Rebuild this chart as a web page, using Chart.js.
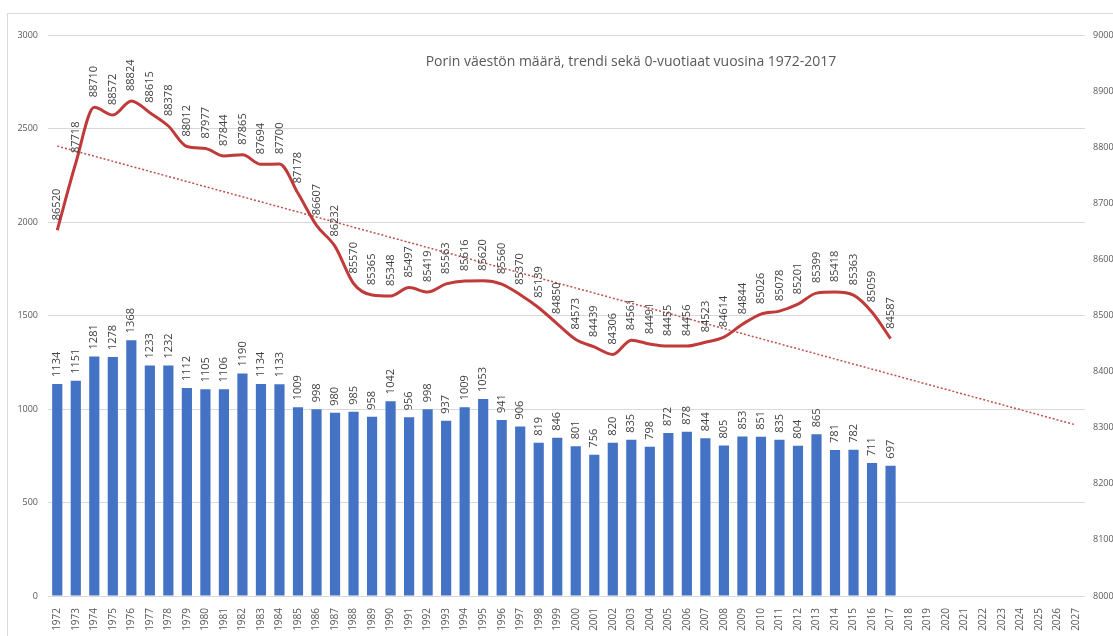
<!DOCTYPE html>
<html><head><meta charset="utf-8">
<script src="https://cdn.jsdelivr.net/npm/chart.js@4"></script>
<style>
html,body{margin:0;padding:0;overflow:hidden;background:#fff;width:1113px;height:636px}
#wrap{position:absolute;left:0;top:0;width:1135px;height:636px}
</style></head>
<body><div id="wrap"><canvas id="c" width="1135" height="636"></canvas></div>
<script>
const titleText = 'Porin väestön määrä, trendi sekä 0-vuotiaat vuosina 1972-2017';
const years = ['1972','1973','1974','1975','1976','1977','1978','1979','1980','1981','1982','1983','1984','1985','1986','1987','1988','1989','1990','1991','1992','1993','1994','1995','1996','1997','1998','1999','2000','2001','2002','2003','2004','2005','2006','2007','2008','2009','2010','2011','2012','2013','2014','2015','2016','2017','2018','2019','2020','2021','2022','2023','2024','2025','2026','2027'];
const births = [1134,1151,1281,1278,1368,1233,1232,1112,1105,1106,1190,1134,1133,1009,998,980,985,958,1042,956,998,937,1009,1053,941,906,819,846,801,756,820,835,798,872,878,844,805,853,851,835,804,865,781,782,711,697];
const population = [86520,87718,88710,88572,88824,88615,88378,88012,87977,87844,87865,87694,87700,87178,86607,86232,85570,85365,85348,85497,85419,85563,85616,85620,85560,85370,85139,84850,84573,84439,84306,84561,84491,84455,84456,84523,84614,84844,85026,85078,85201,85399,85418,85363,85059,84587];
const trendStart = 88020; // value at 1972
const trendEnd = 83050;   // value at 2027
const leftTicks = [0,500,1000,1500,2000,2500,3000];
const rightTicks = [80000,81000,82000,83000,84000,85000,86000,87000,88000,89000,90000];

const trend = years.map((y,i)=> i===0 ? trendStart : (i===years.length-1 ? trendEnd : null));

const FONT = '"Open Sans", "Noto Sans", sans-serif';

const framePlugin = {
  id:'frame',
  beforeDraw(chart){
    const ctx = chart.ctx;
    ctx.save();
    ctx.fillStyle='#fff';
    ctx.fillRect(0,0,chart.width,chart.height);
    ctx.strokeStyle='#d9d9d9';
    ctx.lineWidth=1;
    ctx.strokeRect(7.5,13.5,chart.width+20,chart.height+20);
    ctx.restore();
  },
  afterDraw(chart){
    const ctx = chart.ctx;
    ctx.save();
    ctx.font = '14px ' + FONT;
    ctx.fillStyle = '#595959';
    ctx.textAlign='center';
    ctx.textBaseline='middle';
    ctx.fillText(titleText, 631, 62);
    ctx.restore();
  }
};

const labelPlugin = {
  id:'vlabels',
  afterDatasetsDraw(chart){
    const ctx = chart.ctx;
    chart.data.datasets.forEach((ds, di)=>{
      if(!ds.vlabelOffset) return;
      const meta = chart.getDatasetMeta(di);
      meta.data.forEach((el, i)=>{
        const v = ds.data[i];
        if(v===null || v===undefined) return;
        ctx.save();
        ctx.translate(el.x, el.y - ds.vlabelOffset);
        ctx.rotate(-Math.PI/2);
        ctx.font = '11px ' + FONT;
        ctx.fillStyle = '#404040';
        ctx.textAlign='left';
        ctx.textBaseline='middle';
        ctx.fillText(String(v), 0, 0);
        ctx.restore();
      });
    });
  }
};

new Chart(document.getElementById('c'), {
  data:{
    labels: years,
    datasets:[
      {type:'line', label:'Väestö', data: population, yAxisID:'y2', borderColor:'#C03A3A', borderWidth:3, pointRadius:0, cubicInterpolationMode:'monotone', order:0, vlabelOffset:10},
      {type:'line', label:'Trendi', data: trend, yAxisID:'y2', borderColor:'#C0504D', borderWidth:1.5, borderDash:[2,2], pointRadius:0, spanGaps:true, order:1},
      {type:'bar', label:'0-vuotiaat', data: births, yAxisID:'y', backgroundColor:'#4472C4', barPercentage:0.55, categoryPercentage:1, order:2, vlabelOffset:7}
    ]
  },
  options:{
    responsive:false,
    animation:false,
    layout:{padding:{top:35,left:0,right:0,bottom:0}},
    plugins:{legend:{display:false}, tooltip:{enabled:false}, title:{display:false}},
    scales:{
      x:{
        type:'category',
        offset:true,
        grid:{display:false},
        border:{display:false},
        ticks:{autoSkip:false, maxRotation:90, minRotation:90, padding:4, color:'#595959', font:{family:FONT, size:10}},
        afterFit(s){ s.height = 40; }
      },
      y:{
        position:'left',
        min:0, max:3000,
        afterBuildTicks(s){ s.ticks = leftTicks.map(v=>({value:v})); },
        grid:{color:'#d9d9d9', drawTicks:false, lineWidth:1},
        border:{display:false},
        ticks:{padding:10, color:'#595959', font:{family:FONT, size:9}, callback:(v)=>String(v)},
        afterFit(s){ s.width = 48; }
      },
      y2:{
        position:'right',
        min:80000, max:90000,
        afterBuildTicks(s){ s.ticks = rightTicks.map(v=>({value:v})); },
        grid:{display:false, drawTicks:false},
        border:{display:false},
        ticks:{padding:8, color:'#595959', font:{family:FONT, size:9}, callback:(v)=>String(v)},
        afterFit(s){ s.width = 50; }
      }
    }
  },
  plugins:[framePlugin, labelPlugin]
});
</script>
</body></html>
